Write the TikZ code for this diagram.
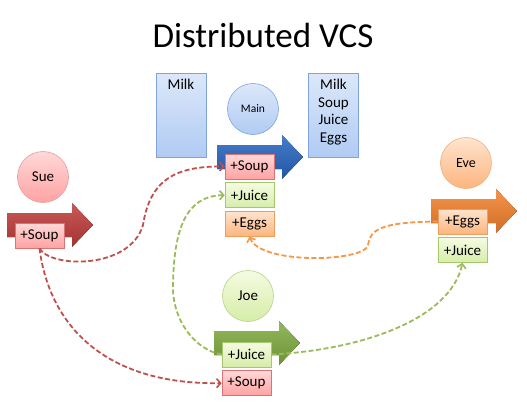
\documentclass[tikz,border=0pt]{standalone}
\usepackage{fontspec}
\setmainfont{Carlito}
\usepackage{tikz}
\usetikzlibrary{positioning, arrows.meta}
\usepackage{xcolor}

\definecolor{souptop}{HTML}{FFD8D8}
\definecolor{soupbot}{HTML}{FFA2A2}
\definecolor{soupline}{HTML}{D87474}
\definecolor{juicetop}{HTML}{F5FBE2}
\definecolor{juicebot}{HTML}{D6EDA8}
\definecolor{juiceline}{HTML}{A5C86C}
\definecolor{eggstop}{HTML}{FFE4CE}
\definecolor{eggsbot}{HTML}{FCB57E}
\definecolor{eggsline}{HTML}{EA9F5E}
\definecolor{repotop}{HTML}{DCE8FA}
\definecolor{repobot}{HTML}{B0CBF3}
\definecolor{repoline}{HTML}{80A4DA}
\definecolor{mainblue}{HTML}{2665C2}
\definecolor{suered}{HTML}{C03C3A}
\definecolor{joegreen}{HTML}{80AC40}
\definecolor{eveorange}{HTML}{F3812A}
\definecolor{redlink}{HTML}{C0504D}
\definecolor{greenlink}{HTML}{9BBB59}
\definecolor{orangelink}{HTML}{F79646}

\begin{document}
\begin{tikzpicture}[x=1pt, y=-1pt,
  change/.style={draw, line width=0.6pt, minimum width=49pt, minimum height=25pt,
    inner sep=0pt, font=\fontsize{15}{18}\selectfont},
  soup/.style={change, draw=soupline, top color=souptop, bottom color=soupbot},
  juice/.style={change, draw=juiceline, top color=juicetop, bottom color=juicebot},
  eggs/.style={change, draw=eggsline, top color=eggstop, bottom color=eggsbot},
  person/.style={circle, line width=0.6pt, minimum size=51pt, inner sep=0pt,
    font=\fontsize{15}{18}\selectfont},
  repo/.style={draw=repoline, line width=0.6pt, top color=repotop, bottom color=repobot,
    minimum width=50pt, minimum height=84pt},
  flow/.style={dash pattern=on 5pt off 2.5pt, line width=1.8pt,
    -{Straight Barb[length=4pt, width=9pt, line width=1.6pt]}}
]
  \useasboundingbox (0,0) rectangle (527,415);

  % Title
  \node[font=\fontsize{35}{42}\selectfont] (title) at (263,35) {Distributed VCS};

  % Draw the big push arrows
  \foreach \x/\y/\c in {217/157/mainblue, 7/225/suered, 214/343/joegreen, 431/211/eveorange} {
    \fill[top color=\c!85!white, bottom color=\c!85!black]
      (\x,\y-12) -- (\x+65,\y-12) -- (\x+65,\y-22) -- (\x+86,\y)
      -- (\x+65,\y+22) -- (\x+65,\y+12) -- (\x,\y+12) -- cycle;
  }

  % Repositories of Main
  \node[repo, label={[anchor=north, yshift=-3pt, font=\fontsize{15}{18}\selectfont]north:Milk}]
    (before) at (181,115) {};
  \node[repo, label={[anchor=north, yshift=-3pt, align=center,
    font=\fontsize{15}{17.5}\selectfont]north:Milk\\Soup\\Juice\\Eggs}]
    (after) at (333.5,115) {};

  % People
  \node[person, draw=repoline, top color=repotop, bottom color=repobot,
    font=\fontsize{11.5}{13}\selectfont] (main) at (253,109) {Main};
  \node[person, draw=soupline!70, top color=souptop, bottom color=soupbot] (sue) at (43,177) {Sue};
  \node[person, draw=juiceline!80, top color=juicetop, bottom color=juicebot] (joe) at (248,296) {Joe};
  \node[person, draw=eggsline!80, top color=eggstop, bottom color=eggsbot,
    font=\fontsize{14}{16}\selectfont] (eve) at (466,163) {Eve};

  % Changes
  \node[soup] (mainsoup) at (249.5,166.5) {+Soup};
  \node[juice, below=3pt of mainsoup] (mainjuice) {+Juice};
  \node[eggs, below=3pt of mainjuice] (maineggs) {+Eggs};
  \node[soup] (suesoup) at (39.5,235.5) {+Soup};
  \node[juice] (joejuice) at (246.5,354.5) {+Juice};
  \node[soup, below=3pt of joejuice] (joesoup) {+Soup};
  \node[eggs] (eveeggs) at (462.5,221.5) {+Eggs};
  \node[juice, below=3pt of eveeggs] (evejuice) {+Juice};

  % Draw the pulls and pushes
  \draw[flow, redlink] (suesoup.south) .. controls (50,268) and (130,270) .. (143,225)
    .. controls (150,180) and (175,166) .. (mainsoup.west);
  \draw[flow, redlink] (suesoup.south) .. controls (50,330) and (110,385) .. (joesoup.west);
  \draw[flow, greenlink] (joejuice.west) .. controls (195,350) and (172,320) .. (173,285)
    .. controls (174,230) and (185,196) .. (mainjuice.west);
  \draw[flow, greenlink] (joejuice.east) .. controls (360,350) and (450,320) .. (evejuice.south);
  \draw[flow, orangelink] (eveeggs.west) .. controls (380,222) and (370,230) .. (368,245)
    .. controls (365,262) and (260,265) .. (maineggs.south);
\end{tikzpicture}
\end{document}
